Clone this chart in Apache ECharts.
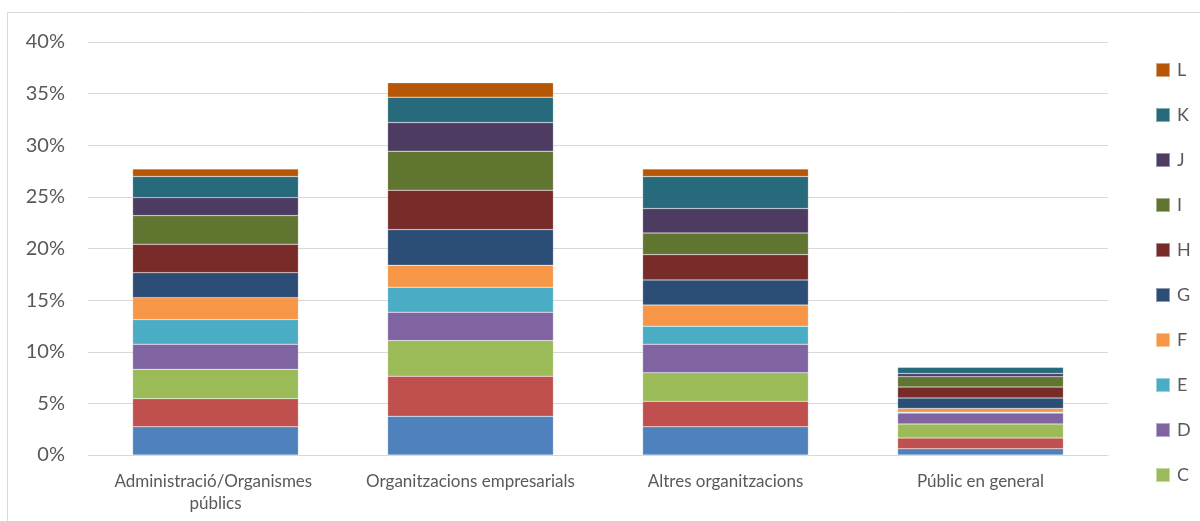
<!DOCTYPE html>
<html>
<head>
<meta charset="utf-8">
<script src="https://cdn.jsdelivr.net/npm/echarts@6/dist/echarts.min.js"></script>
<style>
  html, body { margin: 0; padding: 0; background: #fff; }
  #chart { width: 1200px; height: 521px; }
</style>
</head>
<body>
<div id="chart"></div>
<script>
// Audience categories (x axis)
const categories = [
  'Administració/Organismes públics',
  'Organitzacions empresarials',
  'Altres organitzacions',
  'Públic en general'
];

// Stacked shares (%) per series, bottom (A) to top (L)
const seriesA = [2.74, 3.75, 2.74, 0.61];
const seriesB = [2.72, 3.88, 2.46, 1.04];
const seriesC = [2.84, 3.45, 2.77, 1.36];
const seriesD = [2.43, 2.75, 2.76, 1.05];
const seriesE = [2.38, 2.42, 1.74, 0.08];
const seriesF = [2.13, 2.13, 2.06, 0.37];
const seriesG = [2.42, 3.45, 2.43, 1.01];
const seriesH = [2.76, 3.82, 2.45, 1.07];
const seriesI = [2.77, 3.78, 2.10, 1.00];
const seriesJ = [1.74, 2.77, 2.36, 0.30];
const seriesK = [2.04, 2.46, 3.10, 0.60];
const seriesL = [0.74, 1.39, 0.74, 0.06];

const seriesNames = ['A', 'B', 'C', 'D', 'E', 'F', 'G', 'H', 'I', 'J', 'K', 'L'];
const seriesValues = [seriesA, seriesB, seriesC, seriesD, seriesE, seriesF,
                      seriesG, seriesH, seriesI, seriesJ, seriesK, seriesL];
const seriesColors = ['#4F81BD', '#C0504D', '#9BBB59', '#8064A2', '#4BACC6', '#F79646',
                      '#2C4D75', '#772C2A', '#5F7530', '#4D3B62', '#276A7C', '#B65708'];

// Legend entries that fit in the panel, top to bottom
const legendEntries = ['L', 'K', 'J', 'I', 'H', 'G', 'F', 'E', 'D', 'C'];

// Y axis ticks
const yMin = 0, yMax = 40, yStep = 5;

const font = 'Lato, "Open Sans", sans-serif';

const chart = echarts.init(document.getElementById('chart'), null, { renderer: 'canvas' });

chart.setOption({
  animation: false,
  backgroundColor: '#ffffff',
  graphic: [{
    type: 'rect',
    shape: { x: 7.5, y: 12.5, width: 1300, height: 600 },
    style: { fill: 'none', stroke: '#d9d9d9', lineWidth: 1 },
    silent: true,
    z: -10
  }],
  grid: { left: 88, right: 92, top: 42, bottom: 66, containLabel: false },
  legend: {
    orient: 'vertical',
    left: 1150,
    top: 56,
    height: 1000,
    itemWidth: 14,
    itemHeight: 14,
    itemGap: 27,
    icon: 'rect',
    data: legendEntries,
    textStyle: { fontFamily: font, fontSize: 18, color: '#595959', padding: [0, 0, 0, 2] }
  },
  xAxis: {
    type: 'category',
    data: categories,
    axisLine: { lineStyle: { color: '#d9d9d9', width: 1 } },
    axisTick: { show: false },
    axisLabel: {
      fontFamily: font, fontSize: 17, color: '#595959',
      margin: 16, lineHeight: 22, width: 240, overflow: 'break', interval: 0
    }
  },
  yAxis: {
    type: 'value',
    min: yMin, max: yMax, interval: yStep,
    axisLine: { show: false },
    axisTick: { show: false },
    splitLine: { lineStyle: { color: '#d9d9d9', width: 1 } },
    axisLabel: {
      fontFamily: font, fontSize: 20, color: '#595959', margin: 23,
      formatter: v => v + '%'
    }
  },
  series: seriesNames.map((name, i) => ({
    name: name,
    type: 'bar',
    stack: 'total',
    barCategoryGap: '35%',
    data: seriesValues[i],
    itemStyle: { color: seriesColors[i], borderColor: 'rgba(255,255,255,0.45)', borderWidth: 0.5 }
  }))
});
</script>
</body>
</html>
